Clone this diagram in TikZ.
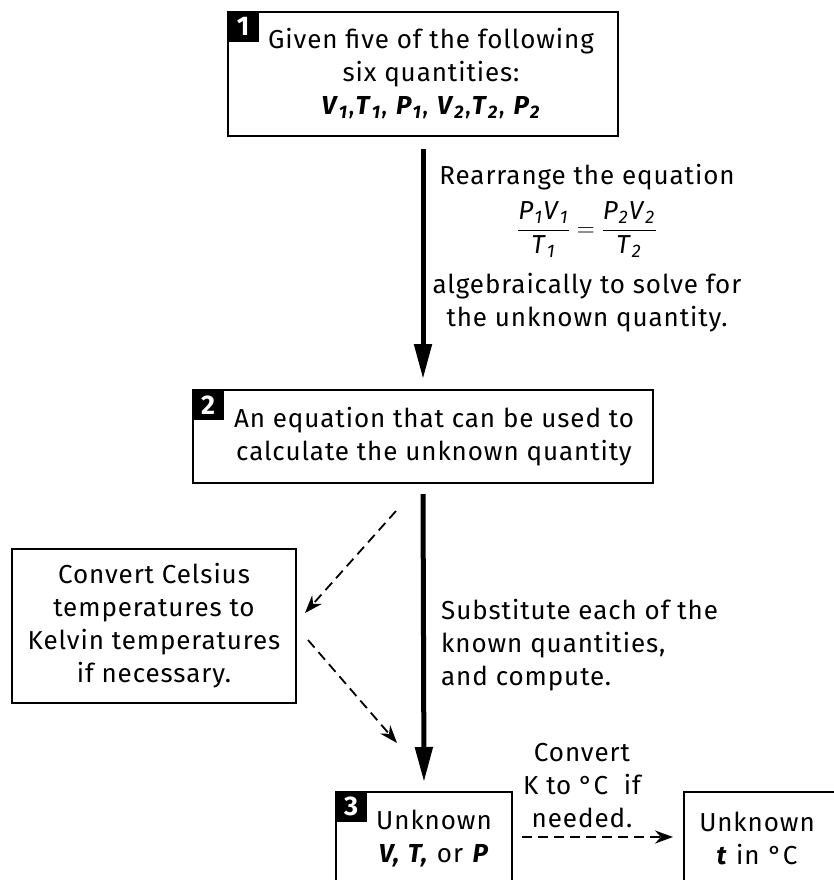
\documentclass[tikz,border=0pt]{standalone}
\usepackage{fontspec}
\setmainfont[LetterSpace=3.5]{Fira Sans}
\usetikzlibrary{arrows.meta}
\newcommand{\qv}[2]{\textbf{\textit{#1}}\textsubscript{\textbf{\textit{#2}}}}
\newcommand{\qi}[2]{\textit{#1}\textsubscript{\textit{#2}}}
\begin{document}
\begin{tikzpicture}[x=1pt,y=-1pt,
  every node/.style={font=\fontsize{26}{33}\selectfont},
  box/.style={draw=black, line width=2pt, align=center, inner sep=0pt},
  numlabel/.style={fill=black, text=white, minimum width=32pt, minimum height=31pt, inner sep=0pt, font=\fontsize{27}{27}\selectfont\bfseries, anchor=north west},
  txt/.style={align=center, inner sep=0pt},
  thick arrow/.style={line width=5pt, -{Triangle[length=35pt,width=17pt]}},
  dash arrow/.style={line width=1.8pt, dash pattern=on 10pt off 6pt, -{Stealth[length=18pt,width=13pt]}}
]
\useasboundingbox (0,0) rectangle (833,880);

% boxes
\node[box, minimum width=390pt, minimum height=124pt] (b1) at (423,74)
  {\hspace*{16pt}Given five of the following\\\hspace*{16pt}six quantities:\\
   \hspace*{16pt}\qv{V}{1},\qv{T}{1}, \qv{P}{1}, \qv{V}{2},\qv{T}{2}, \qv{P}{2}};
\node[numlabel] (n1) at (b1.north west) {1};

\node[box, minimum width=460pt, minimum height=93pt] (b2) at (423,436.5)
  {\hspace*{22pt}An equation that can be used to\\\hspace*{22pt}calculate the unknown quantity};
\node[numlabel] (n2) at (b2.north west) {2};

\node[box, minimum width=284pt, minimum height=154pt] (bc) at (154,626)
  {Convert Celsius\\temperatures to\\Kelvin temperatures\\if necessary.};

\node[box, minimum width=176pt, minimum height=110pt, anchor=north west, text width=150pt, align=center] (b3) at (335,791)
  {\raisebox{0pt}{}\\[-30pt]\hspace*{20pt}Unknown\\\hspace*{20pt}\textbf{\textit{V, T,}} or \textbf{\textit{P}}};
\node[numlabel] (n3) at (b3.north west) {3};

\node[box, minimum width=176pt, minimum height=110pt, anchor=north west, text width=150pt, align=center] (b4) at (683,791)
  {\raisebox{0pt}{}\\[-30pt]\hspace*{-30pt}Unknown\\\hspace*{-30pt}\textbf{\textit{t}} in °C};

% side texts
\node[txt] (r1) at (587,248)
  {Rearrange the equation\\[11pt]
   $\displaystyle\frac{\mbox{\qi{P}{1}\qi{V}{1}}}{\mbox{\qi{T}{1}}}=\frac{\mbox{\qi{P}{2}\qi{V}{2}}}{\mbox{\qi{T}{2}}}$\\[15pt]
   algebraically to solve for\\the unknown quantity.};

\node[txt, align=left, anchor=west] (r2) at (441,645)
  {Substitute each of the\\known quantities,\\and compute.};

\node[txt] (r3) at (582,786)
  {Convert\\K to °C\ \ if\\needed.};

% connectors
\draw[thick arrow, shorten <=12pt, shorten >=10pt] (b1.south) -- (b2.north);
\draw[thick arrow, shorten <=10pt, shorten >=9pt] (b2.south) -- (b3.north);

\coordinate (d1s) at (396,511);
\coordinate (d1e) at (305,613);
\coordinate (d2s) at (308,640);
\coordinate (d2e) at (397,743);
\draw[dash arrow] (d1s) -- (d1e);
\draw[dash arrow] (d2s) -- (d2e);

\draw[dash arrow, shorten <=9pt, shorten >=10pt] (b3.east |- 0,837) -- (b4.west |- 0,837);
\end{tikzpicture}
\end{document}
